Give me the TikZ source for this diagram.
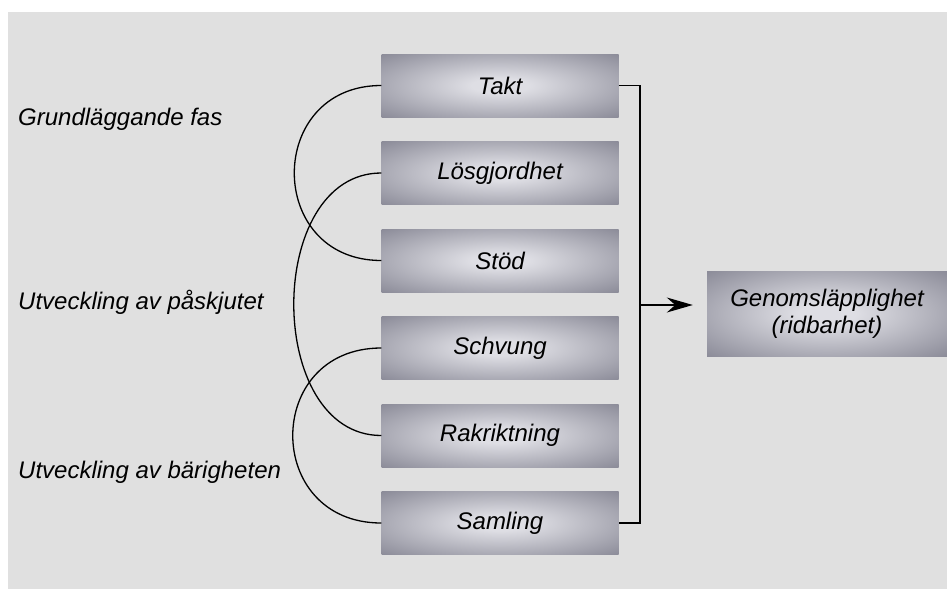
\documentclass[tikz,border=0pt]{standalone}
\usepackage{fontspec}
\setmainfont{Liberation Sans}
\usetikzlibrary{arrows.meta,positioning}
\definecolor{paper}{RGB}{224,224,224}
\definecolor{boxin}{RGB}{222,222,228}
\definecolor{boxout}{RGB}{104,104,120}
\pgfdeclareradialshading{boxglow}{\pgfpoint{0bp}{0bp}}{color(0bp)=(boxin); color(6bp)=(boxin); color(48bp)=(boxout); color(72bp)=(boxout)}

\begin{document}
\begin{tikzpicture}[
    x=1pt, y=-1pt,
    font=\fontsize{24}{27}\selectfont\itshape,
    phase/.style = {rectangle, shading=boxglow, minimum width=237pt, minimum height=63pt, inner sep=0pt, align=center},
    goal/.style = {phase, minimum width=240pt, minimum height=85pt},
    stage/.style = {anchor=base west, inner sep=0pt},
    link/.style = {line width=1.3pt}
]
    \useasboundingbox (0,0) rectangle (947,589);
    \fill[white] (0,0) rectangle (947,589);
    \fill[paper] (8,12) rectangle (947,589);

    \node[phase] (takt) at (500,85.5) {Takt};
    \node[phase] (losg) at (500,173) {Lösgjordhet};
    \node[phase] (stod) at (500,260.5) {Stöd};
    \node[phase] (schv) at (500,348) {Schvung};
    \node[phase] (rakr) at (500,435.5) {Rakriktning};
    \node[phase] (saml) at (500,523) {Samling};
    \node[goal] (genom) at (827,313.5) {Genomsläpplighet \\ (ridbarhet)};

    \node[stage] (grund) at (18,125) {Grundläggande fas};
    \node[stage] (pask) at (18,309) {Utveckling av påskjutet};
    \node[stage] (barig) at (18,478) {Utveckling av bärigheten};

    \coordinate (bus) at (640,305);
    \draw[link] (takt.east) -| (bus) |- (saml.east);
    \draw[link, -{Stealth[length=26pt,width=15pt]}, shorten >=14pt] (bus) -- (bus -| genom.west);

    \draw[link] (takt.west) to[out=180, in=180, looseness=1.7] (stod.west);
    \draw[link] (losg.west) to[out=180, in=180, looseness=1.14] (rakr.west);
    \draw[link] (schv.west) to[out=180, in=180, looseness=1.73] (saml.west);
\end{tikzpicture}
\end{document}
